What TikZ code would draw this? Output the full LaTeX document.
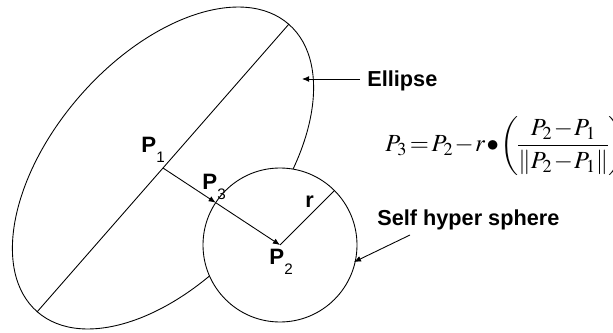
\documentclass[tikz,border=0pt]{standalone}
\usepackage{mathptmx}
\usepackage[no-math]{fontspec}
\newfontfamily\arialf{Liberation Sans}
\usetikzlibrary{arrows.meta,calc}
\begin{document}
\begin{tikzpicture}[x=0.03cm,y=0.03cm, line width=0.75pt,
  tip/.style={-{Latex[length=6pt,width=5pt]}},
  lbl/.style={font=\arialf\bfseries\fontsize{18.5}{20}\selectfont, inner sep=0, anchor=base west},
  plbl/.style={font=\arialf\fontsize{19}{22}\selectfont, inner sep=0, anchor=base west}]
\useasboundingbox (0,0) rectangle (613,332);
\coordinate (P1) at (163,164);
\coordinate (P2) at (280,87);
\coordinate (A) at (37,20);
\coordinate (B) at (289,308);
\draw[rotate around={48.8:(P1)}] (P1) ellipse [x radius=191, y radius=110];
\draw (A) -- (B);
\draw[fill=white] (P2) circle [radius=77];
\coordinate (P3) at ($(P2)!2.31cm!(P1)$);
\coordinate (R) at ($(P2)+(45:77)$);
\draw (P2) -- (R);
\draw[tip] (P1) -- (P3);
\draw[tip] (P3) -- (P2);
% point labels
\node[plbl] (l1) at (141,179) {\textbf{P}\raisebox{-8pt}{\fontsize{13}{14}\selectfont 1}};
\node[plbl] (l3) at (202,142) {\textbf{P}\raisebox{-8pt}{\fontsize{13}{14}\selectfont 3}};
\node[plbl] (l2) at (269,67) {\textbf{P}\raisebox{-8pt}{\fontsize{13}{14}\selectfont 2}};
\node[lbl] (rl) at (305,124) {r};
% ellipse label
\node[lbl] (ell) at (367,245) {Ellipse};
\coordinate (ellS) at (360,253);
\coordinate (ellT) at (302,253);
\draw[tip] (ellS) -- (ellT);
% sphere label
\node[lbl] (sph) at (377,106) {Self hyper sphere};
\coordinate (sphS) at (410,97);
\coordinate (sphT) at (354,70);
\draw[tip] (sphS) -- (sphT);
% formula
\node[anchor=base west, inner sep=0, font=\fontsize{21}{25}\selectfont] (eq) at (385,180)
  {$\medmuskip=1mu\thickmuskip=2mu\nulldelimiterspace=0pt\displaystyle P_3=P_2-r\bullet\left(\frac{P_2-P_1}{\|P_2-P_1\|}\right)$};
\end{tikzpicture}
\end{document}
